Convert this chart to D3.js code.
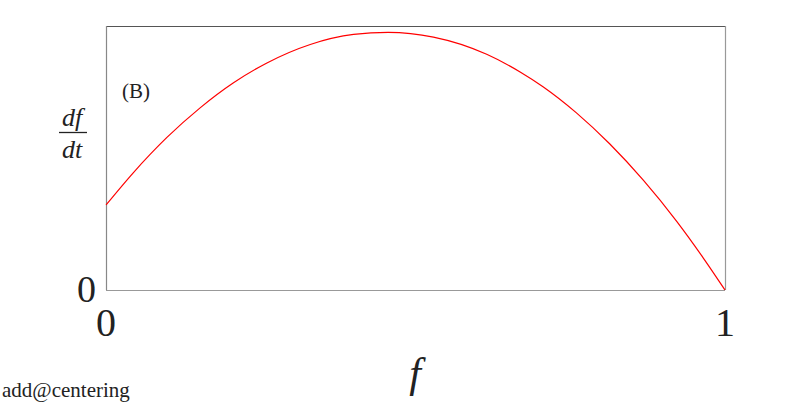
<!DOCTYPE html>
<html>
<head>
  <meta charset="utf-8">
  <title>df/dt against f</title>
  <script src="https://d3js.org/d3.v7.min.js"></script>
  <style>
    body { margin: 0; background: #fff; }
    text { font-family: "Liberation Serif", "DejaVu Serif", serif; fill: #222; }
  </style>
</head>
<body>
  <div id="chart"></div>

  <script>
    // values (f, df/dt), box top = 1
    var fValues  = [0, 0.044, 0.098, 0.152, 0.206, 0.260, 0.330, 0.400, 0.456, 0.529, 0.615, 0.669, 0.706, 0.760, 0.814, 0.868, 0.922, 0.965, 1];
    var dfValues = [0.322, 0.444, 0.577, 0.690, 0.785, 0.860, 0.930, 0.968, 0.976, 0.958, 0.893, 0.826, 0.770, 0.671, 0.553, 0.416, 0.260, 0.121, 0];
    var xTicks = [0, 1];
    var yTicks = [0];

    var width = 804, height = 404;
    var margin = { top: 26, right: 79, bottom: 114, left: 106 };
    var w = width - margin.left - margin.right;
    var h = height - margin.top - margin.bottom;

    var svg = d3.select('#chart').append('svg')
      .attr('width', width)
      .attr('height', height);

    var g = svg.append('g')
      .attr('transform', 'translate(' + margin.left + ',' + margin.top + ')');

    var x = d3.scaleLinear().domain([0, 1]).range([0, w]);
    var y = d3.scaleLinear().domain([0, 1]).range([h, 0]);

    // box
    g.append('line').attr('x1', 0).attr('x2', w).attr('y1', 0.5).attr('y2', 0.5)
      .attr('stroke', '#555').attr('stroke-width', 1.2);
    g.append('line').attr('x1', w + 0.5).attr('x2', w + 0.5).attr('y1', 0).attr('y2', h)
      .attr('stroke', '#999').attr('stroke-width', 1.2);
    g.append('line').attr('x1', 0).attr('x2', w).attr('y1', h + 0.5).attr('y2', h + 0.5)
      .attr('stroke', '#999').attr('stroke-width', 1.2);
    g.append('line').attr('x1', 0.5).attr('x2', 0.5).attr('y1', 0).attr('y2', h)
      .attr('stroke', '#888').attr('stroke-width', 1.2);

    var pts = fValues.map(function(f, i) { return [f, dfValues[i]]; });

    var line = d3.line()
      .x(function(d) { return x(d[0]); })
      .y(function(d) { return y(d[1]); })
      .curve(d3.curveMonotoneX);

    g.append('path')
      .datum(pts)
      .attr('d', line)
      .attr('fill', 'none')
      .attr('stroke', '#ff0000')
      .attr('stroke-width', 1.2);

    // tick labels
    g.selectAll('.xtick')
      .data(xTicks)
      .enter().append('text')
      .attr('class', 'xtick')
      .attr('x', function(d) { return x(d); })
      .attr('y', h + 46)
      .attr('text-anchor', 'middle')
      .style('font-size', '40px')
      .text(function(d) { return d; });

    g.selectAll('.ytick')
      .data(yTicks)
      .enter().append('text')
      .attr('class', 'ytick')
      .attr('x', -10)
      .attr('y', function(d) { return y(d) + 12; })
      .attr('text-anchor', 'end')
      .style('font-size', '38px')
      .text(function(d) { return d; });

    // panel label
    g.append('text')
      .attr('x', 16)
      .attr('y', 72)
      .style('font-size', '21px')
      .text('(B)');

    // y label as fraction df/dt
    svg.append('text')
      .attr('x', 72).attr('y', 126)
      .attr('text-anchor', 'middle')
      .style('font-size', '26px').style('font-style', 'italic')
      .text('df');
    svg.append('line')
      .attr('x1', 59).attr('x2', 87).attr('y1', 132.5).attr('y2', 132.5)
      .attr('stroke', '#222').attr('stroke-width', 1.3);
    svg.append('text')
      .attr('x', 72).attr('y', 158)
      .attr('text-anchor', 'middle')
      .style('font-size', '26px').style('font-style', 'italic')
      .text('dt');

    // x label
    svg.append('text')
      .attr('x', 415).attr('y', 387)
      .attr('text-anchor', 'middle')
      .style('font-size', '42px').style('font-style', 'italic')
      .text('f');

    svg.append('text')
      .attr('x', 2).attr('y', 397)
      .style('font-size', '21px')
      .text('add@centering');
  </script>
</body>
</html>
